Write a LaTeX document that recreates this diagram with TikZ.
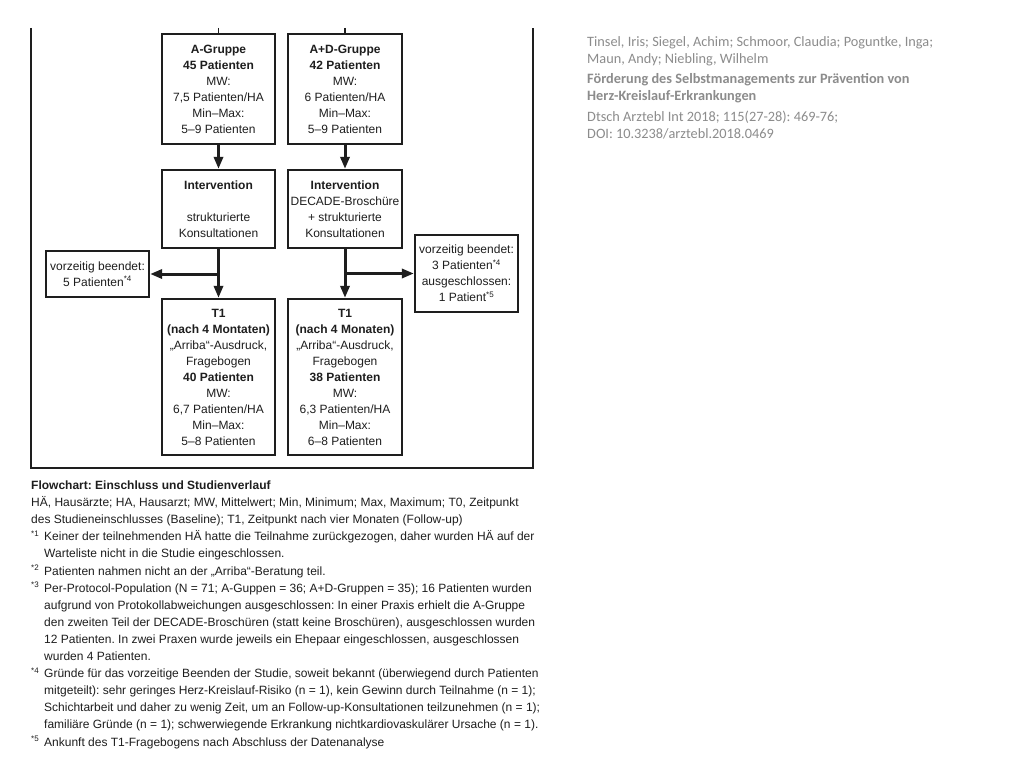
\documentclass[tikz,border=0pt]{standalone}
\usepackage{fontspec}
\setmainfont{Liberation Sans}
\newfontfamily\carl{Carlito}
\usetikzlibrary{arrows.meta}
\definecolor{ink}{HTML}{1E1E1E}
\definecolor{greytxt}{HTML}{8C8C8C}
\frenchspacing
\begin{document}
\begin{tikzpicture}[x=1pt,y=-1pt,
 box/.style={draw=ink, line width=2.2pt, align=center, inner sep=0pt, text=ink, font=\fontsize{12}{16}\selectfont},
 flow/.style={draw=ink, line width=3pt, -{Triangle[length=12pt,width=9pt]}},
 stub/.style={draw=ink, line width=1.3pt},
 captxt/.style={anchor=base west, inner sep=0pt, text=ink, font=\fontsize{12}{17}\selectfont},
 refl/.style={anchor=base west, inner sep=0pt, text=greytxt, font=\carl\fontsize{14.3}{17}\selectfont}]
\useasboundingbox[fill=white] (0,0) rectangle (1024,768);

% frame
\draw[ink, line width=2pt] (31,28) -- (31,468) -- (533,468) -- (533,28);

% boxes
\node[box, minimum width=113pt, minimum height=110pt] (ag) at (218.5,89)
 {\textbf{A-Gruppe}\\\textbf{45 Patienten}\\MW:\\7,5 Patienten/HA\\Min–Max:\\5–9 Patienten};
\node[box, minimum width=114pt, minimum height=110pt] (adg) at (345,89)
 {\textbf{A+D-Gruppe}\\\textbf{42 Patienten}\\MW:\\6 Patienten/HA\\Min–Max:\\5–9 Patienten};
\node[box, minimum width=113pt, minimum height=78pt] (ia) at (218.5,209)
 {\textbf{Intervention}\\[16pt]strukturierte\\Konsultationen};
\node[box, minimum width=114pt, minimum height=78pt] (iad) at (345,209)
 {\textbf{Intervention}\\DECADE-Broschüre\\+ strukturierte\\Konsultationen};
\node[box, minimum width=103pt, minimum height=46pt] (lb) at (97.5,274)
 {vorzeitig beendet:\\5 Patienten\textsuperscript{*4}};
\node[box, minimum width=103pt, minimum height=77pt] (rb) at (466.5,273.5)
 {vorzeitig beendet:\\3 Patienten\textsuperscript{*4}\\ausgeschlossen:\\1 Patient\textsuperscript{*5}};
\node[box, minimum width=113pt, minimum height=156pt] (ta) at (218.5,377)
 {\textbf{T1}\\\textbf{(nach 4 Montaten)}\\„Arriba“-Ausdruck,\\Fragebogen\\\textbf{40 Patienten}\\MW:\\6,7 Patienten/HA\\Min–Max:\\5–8 Patienten};
\node[box, minimum width=114pt, minimum height=156pt] (tad) at (345,377)
 {\textbf{T1}\\\textbf{(nach 4 Monaten)}\\„Arriba“-Ausdruck,\\Fragebogen\\\textbf{38 Patienten}\\MW:\\6,3 Patienten/HA\\Min–Max:\\6–8 Patienten};

% stubs from above
\coordinate (sa) at (218.5,28);
\coordinate (sad) at (345,28);
\draw[stub] (sa) -- (ag.north);
\draw[stub] (sad) -- (adg.north);

% arrows
\draw[flow] (ag.south) -- (ia.north);
\draw[flow] (adg.south) -- (iad.north);
\draw[flow] (ia.south) -- (ta.north);
\draw[flow] (iad.south) -- (tad.north);
\draw[flow] (ia.south |- lb.east) -- (lb.east);
\draw[flow] (iad.south |- rb.west) -- (rb.west);

% caption
\node[captxt, font=\bfseries\fontsize{12}{17}\selectfont] (c0) at (31,489.5) {Flowchart: Einschluss und Studienverlauf};
\node[captxt] (c1) at (31,506.6) {HÄ, Hausärzte; HA, Hausarzt; MW, Mittelwert; Min, Minimum; Max, Maximum; T0, Zeitpunkt};
\node[captxt] (c2) at (31,523.7) {des Studieneinschlusses (Baseline); T1, Zeitpunkt nach vier Monaten (Follow-up)};
\node[captxt] (m1) at (31,540.8) {\textsuperscript{*1}};
\node[captxt] (c3) at (44,540.8) {Keiner der teilnehmenden HÄ hatte die Teilnahme zurückgezogen, daher wurden HÄ auf der};
\node[captxt] (c4) at (44,557.9) {Warteliste nicht in die Studie eingeschlossen.};
\node[captxt] (m2) at (31,575) {\textsuperscript{*2}};
\node[captxt] (c5) at (44,575) {Patienten nahmen nicht an der „Arriba“-Beratung teil.};
\node[captxt] (m3) at (31,592.1) {\textsuperscript{*3}};
\node[captxt] (c6) at (44,592.1) {Per-Protocol-Population (N = 71; A-Guppen = 36; A+D-Gruppen = 35); 16 Patienten wurden};
\node[captxt] (c7) at (44,609.2) {aufgrund von Protokollabweichungen ausgeschlossen: In einer Praxis erhielt die A-Gruppe};
\node[captxt] (c8) at (44,626.3) {den zweiten Teil der DECADE-Broschüren (statt keine Broschüren), ausgeschlossen wurden};
\node[captxt] (c9) at (44,643.4) {12 Patienten. In zwei Praxen wurde jeweils ein Ehepaar eingeschlossen, ausgeschlossen};
\node[captxt] (c10) at (44,660.5) {wurden 4 Patienten.};
\node[captxt] (m4) at (31,677.6) {\textsuperscript{*4}};
\node[captxt] (c11) at (44,677.6) {Gründe für das vorzeitige Beenden der Studie, soweit bekannt (überwiegend durch Patienten};
\node[captxt] (c12) at (44,694.7) {mitgeteilt): sehr geringes Herz-Kreislauf-Risiko (n = 1), kein Gewinn durch Teilnahme (n = 1);};
\node[captxt] (c13) at (44,711.8) {Schichtarbeit und daher zu wenig Zeit, um an Follow-up-Konsultationen teilzunehmen (n = 1);};
\node[captxt] (c14) at (44,728.9) {familiäre Gründe (n = 1); schwerwiegende Erkrankung nichtkardiovaskulärer Ursache (n = 1).};
\node[captxt] (m5) at (31,746) {\textsuperscript{*5}};
\node[captxt] (c15) at (44,746) {Ankunft des T1-Fragebogens nach Abschluss der Datenanalyse};

% reference text
\node[refl] (r1) at (587,46.5) {Tinsel, Iris; Siegel, Achim; Schmoor, Claudia; Poguntke, Inga;};
\node[refl] (r2) at (587,63.5) {Maun, Andy; Niebling, Wilhelm};
\node[refl, font=\carl\bfseries\fontsize{14.3}{17}\selectfont] (r3) at (587,83.5) {Förderung des Selbstmanagements zur Prävention von};
\node[refl, font=\carl\bfseries\fontsize{14.3}{17}\selectfont] (r4) at (587,100.5) {Herz-Kreislauf-Erkrankungen};
\node[refl] (r5) at (587,121.5) {Dtsch Arztebl Int 2018; 115(27-28): 469-76;};
\node[refl] (r6) at (587,138.5) {DOI: 10.3238/arztebl.2018.0469};
\end{tikzpicture}
\end{document}
